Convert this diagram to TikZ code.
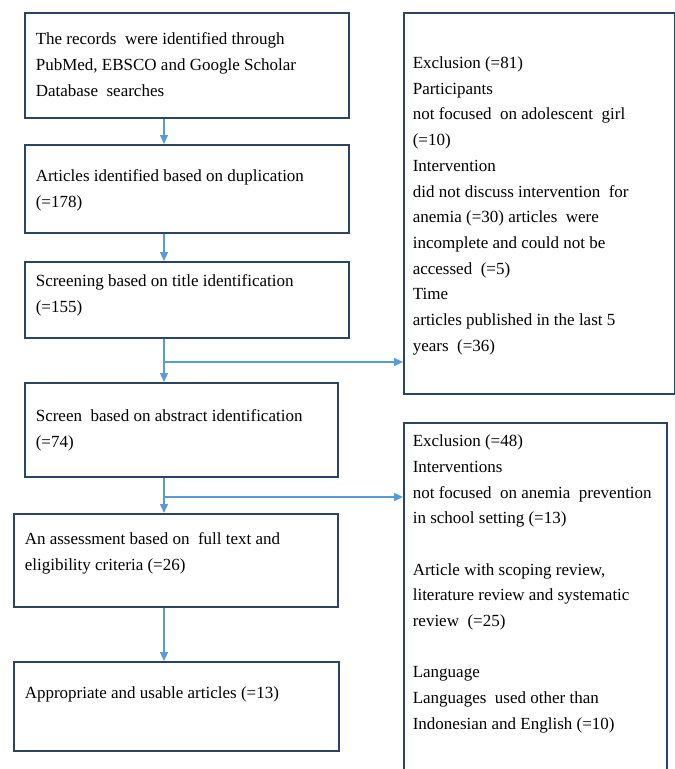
\documentclass[tikz,border=0pt]{standalone}
\usepackage{fontspec}
\setmainfont{Liberation Serif}
\usetikzlibrary{arrows.meta}
\definecolor{frame}{HTML}{2B4464}
\definecolor{flowblue}{HTML}{5B9BD5}
\newcommand{\stagetext}[4]{\parbox[t][#2][t]{#1}{\vspace*{#3}\raggedright #4}}

\begin{document}
\begin{tikzpicture}[x=1pt,y=-1pt,
 stage/.style={draw=frame,line width=1.6pt,anchor=north west,inner xsep=11pt,
 inner ysep=0pt,font=\fontsize{17pt}{25.7pt}\selectfont},
 flow/.style={->,draw=flowblue,fill=flowblue,line width=1.3pt},>={Triangle[length=9pt,width=8pt]}]
\clip (0,0) rectangle (675,769);
\fill[white] (0,0) rectangle (675,769);
\node[stage] (ident) at (24,12) {\stagetext{302pt}{105pt}{20pt}{The records\ \ were identified through\\PubMed, EBSCO and Google Scholar\\Database\ \ searches}};
\node[stage] (dup) at (24,144) {\stagetext{302pt}{88pt}{25pt}{Articles identified based on duplication\\(=178)}};
\node[stage] (title) at (24,261) {\stagetext{302pt}{76pt}{13pt}{Screening based on title identification\\(=155)}};
\node[stage] (abstr) at (24,382) {\stagetext{291pt}{94pt}{27pt}{Screen\ \ based on abstract identification\\(=74)}};
\node[stage] (full) at (13,513) {\stagetext{302pt}{93pt}{19pt}{An assessment based on\ \ full text and\\eligibility criteria (=26)}};
\node[stage] (usable) at (13,661) {\stagetext{303pt}{89pt}{25pt}{Appropriate and usable articles (=13)}};
\node[stage,inner xsep=9pt] (excl1) at (403,12) {\stagetext{253pt}{381pt}{44pt}{Exclusion (=81)\\Participants\\not focused\ \ on adolescent\ \ girl\\(=10)\\Intervention\\did not discuss intervention\ \ for\\anemia (=30) articles\ \ were\\incomplete and could not be\\accessed\ \ (=5)\\Time\\articles published in the last 5\\years\ \ (=36)}};
\node[stage,inner xsep=9pt] (excl2) at (403,422) {\stagetext{245pt}{370pt}{12pt}{Exclusion (=48)\\Interventions\\not focused\ \ on anemia\ \ prevention\\in school setting (=13)\\[25.7pt]Article with scoping review,\\literature review and systematic\\review\ \ (=25)\\[25.7pt]Language\\Languages\ \ used other than\\Indonesian and English (=10)}};
% main line and the two exclusion branches
\coordinate (spine) at (164,0);
\coordinate (fork1) at (164,362);
\coordinate (fork2) at (164,497);
\foreach \u/\v in {ident/dup,dup/title,title/abstr,abstr/full,full/usable}
 \draw[flow] (spine |- \u.south) -- (spine |- \v.north);
\draw[flow] (fork1) -- (fork1 -| excl1.west);
\draw[flow] (fork2) -- (fork2 -| excl2.west);
\end{tikzpicture}
\end{document}
